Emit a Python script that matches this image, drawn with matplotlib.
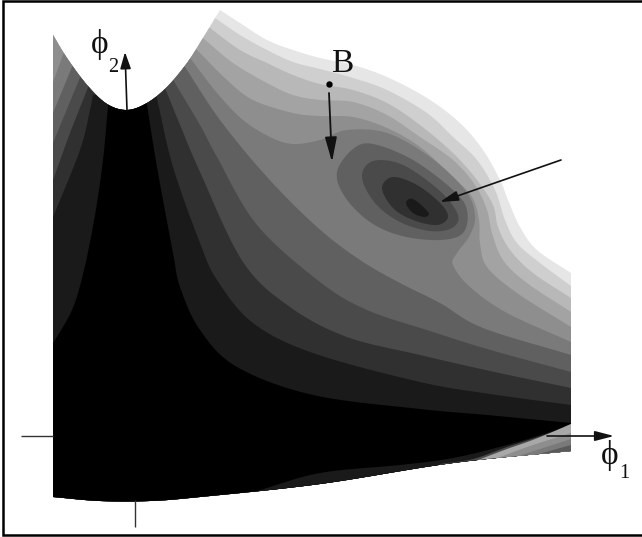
import numpy as np
import matplotlib
matplotlib.use("Agg")
import matplotlib.pyplot as plt
from matplotlib.patches import Polygon

# Outline of the plotted domain (phi1, phi2 in picture units)
domain_valley = [(53,35),(67,58),(87,85),(107,104),(127,110),(147,103),(167,87),(187,63),(203,38),(220,10)]
domain_ridge = [(220,10),(240,23),(267,40),(293,50),(320,58),(353,65),(387,77),(427,98),(460,123),(483,150),
                (500,180),(508,200),(520,227),(537,250),(571,273)]
domain_bottom = [(571,451),(453,463),(320,484),(200,497),(150,501),(100,501),(53,497)]

# Iso-potential levels: grey value, then the contour on the left of the valley and on the right
level_grey = [0xCF, 0xB8, 0xA3, 0x8E, 0x7A, 0x60, 0x4A, 0x30, 0x1A, 0x00]
left_cf = [(40,10)]
right_cf = [(205,12),(215,18),(240,35),(267,50),(293,62),(320,69),(353,78),(387,90),(427,113),(453,137),(477,160),
            (495,190),(505,220),(517,243),(540,263),(571,286)]
left_b8 = [(40,10)]
right_b8 = [(200,20),(210,28),(240,50),(267,63),(293,75),(320,84),(353,90),(387,103),(420,125),(453,153),(477,180),
            (493,205),(498,227),(510,250),(533,273),(571,298)]
left_a3 = [(40,10)]
right_a3 = [(193,30),(203,38),(233,63),(267,83),(293,95),(320,100),(353,102),(387,115),(420,137),(453,160),(475,185),
            (487,210),(492,233),(503,260),(527,283),(571,312)]
left_8e = [(40,10)]
right_8e = [(188,42),(197,50),(227,80),(253,100),(293,113),(320,116),(353,117),(387,128),(420,147),(453,177),(472,197),
            (479,220),(480,243),(487,267),(517,293),(571,327)]
left_7a = [(45,100),(53,82),(63,55),(68,42)]
right_7a = [(182,50),(190,58),(217,93),(243,120),(270,137),(293,144),(320,140),(347,130),(387,133),(430,157),(465,190),
            (475,215),(470,235),(457,253),(453,265),(470,287),(507,313),(571,342)]
left_60 = [(45,133),(53,113),(72,67),(77,55)]
right_60 = [(178,58),(185,67),(220,120),(267,177),(317,227),(360,260),(400,283),(440,303),(483,328),(571,355)]
left_4a = [(45,163),(53,143),(79,80),(84,68)]
right_4a = [(170,72),(175,83),(200,125),(217,157),(257,225),(320,282),(367,310),(430,331),(487,349),(571,372)]
left_30 = [(45,200),(53,180),(70,133),(87,90),(91,78)]
right_30 = [(162,82),(167,93),(178,120),(200,172),(243,262),(290,307),(347,337),(420,355),(490,371),(571,388)]
left_1a = [(45,235),(53,217),(80,150),(90,110),(93,95)]
right_1a = [(155,92),(158,103),(173,167),(200,243),(217,280),(253,323),(313,353),(420,382),(490,394),(571,405)]
left_00 = [(45,355),(53,343),(72,310),(84,270),(95,215),(103,160),(108,107),(110,95)]
right_00 = [(145,95),(147,105),(157,167),(173,253),(180,287),(200,330),(237,367),(313,395),(420,409),(487,415),(571,423)]

left_contours = [left_cf, left_b8, left_a3, left_8e, left_7a, left_60, left_4a, left_30, left_1a, left_00]
right_contours = [right_cf, right_b8, right_a3, right_8e, right_7a, right_60, right_4a, right_30, right_1a, right_00]

# Closed rings of the local minimum
ring_grey = [0x60, 0x4A, 0x30, 0x1A]
ring_60 = [(337,172),(353,149),(373,144),(413,160),(453,190),(467,210),(463,233),(440,240),(402,236),(370,222),(345,197)]
ring_4a = [(362,177),(373,161),(403,165),(440,191),(458,215),(452,228),(430,231),(400,222),(375,203)]
ring_30 = [(382,188),(393,177),(417,185),(440,203),(448,217),(437,225),(413,220),(393,208)]
ring_1a = [(406,203),(413,199),(428,212),(425,217),(413,213)]
rings = [ring_60, ring_4a, ring_30, ring_1a]

# Steep wedge along the lower edge
wedge_grey = [0x1A, 0x4A, 0xA8, 0x8E, 0x7A, 0x5A]
wedge_1a = [(257,491),(320,473),(400,465),(453,458),(507,445),(550,432),(571,424)]
wedge_4a = [(440,464),(473,459),(507,447),(550,433),(571,424)]
wedge_a8 = [(478,460),(507,449),(530,441),(550,433),(571,424)]
wedge_8e = [(495,459),(530,446),(571,433)]
wedge_7a = [(515,457),(540,449),(571,439)]
wedge_5a = [(535,455),(571,445)]
wedges = [wedge_1a, wedge_4a, wedge_a8, wedge_8e, wedge_7a, wedge_5a]

# Axes, arrows and labels
x_axis_left = [(21,436),(53,436)]
x_axis_right = [(547,436),(614,436)]
y_axis = [(127,110),(125,52)]
y_axis_stub = [(134.5,500),(134.5,527)]
arrow_b = [(329,93),(332,162)]
arrow_well = [(561,160),(440,202)]
point_b = (329,84)


def grey(v):
    return "#%02x%02x%02x" % (v, v, v)


def smooth(points, closed=False, n=14):
    p = np.array(points, float)
    if len(p) < 3:
        return p
    if closed:
        q = np.vstack([p[-1], p, p[0], p[1]])
    else:
        q = np.vstack([2*p[0]-p[1], p, 2*p[-1]-p[-2]])
    out = []
    t = np.linspace(0, 1, n, endpoint=False)[:, None]
    for i in range(1, len(q)-2):
        a, b, c, d = q[i-1], q[i], q[i+1], q[i+2]
        out.append(0.5*(2*b + (c-a)*t + (2*a-5*b+4*c-d)*t**2 + (3*b-a-3*c+d)*t**3))
    out = np.vstack(out)
    return out if closed else np.vstack([out, p[-1]])


fig = plt.figure(figsize=(6.42, 5.37), dpi=100, facecolor="white")
ax = fig.add_axes([0, 0, 1, 1])
ax.set_xlim(0, 642)
ax.set_ylim(537, 0)
ax.axis("off")

outline = np.vstack([smooth(domain_valley), smooth(domain_ridge), smooth(domain_bottom)])
domain = Polygon(outline, closed=True, facecolor=grey(0xE6), edgecolor="none", zorder=1)
ax.add_patch(domain)

for g, left, right in zip(level_grey, left_contours, right_contours):
    end = right[-1]
    verts = np.vstack([smooth(left), smooth(right), [(590, end[1]+8), (590, 530), (40, 530)]])
    ax.add_patch(Polygon(verts, closed=True, facecolor=grey(g), edgecolor="none", zorder=2, clip_path=domain))

for g, ring in zip(ring_grey, rings):
    ax.add_patch(Polygon(smooth(ring, closed=True), closed=True, facecolor=grey(g), edgecolor="none", zorder=3))

for g, w in zip(wedge_grey, wedges):
    verts = np.vstack([smooth(w), [(590, w[-1][1]), (590, 530), (w[0][0], 530)]])
    ax.add_patch(Polygon(verts, closed=True, facecolor=grey(g), edgecolor="none", zorder=4, clip_path=domain))

for seg in (x_axis_left, y_axis_stub):
    ax.plot(*zip(*seg), color="#333333", lw=1.0, zorder=6, solid_capstyle="butt")


def arrow(seg, head_len, head_w, lw=1.3):
    ax.annotate("", xy=seg[1], xytext=seg[0], zorder=7,
                arrowprops=dict(arrowstyle=f"-|>,head_length={head_len},head_width={head_w}",
                                color="#111111", lw=lw, shrinkA=0, shrinkB=0, mutation_scale=10))


arrow(x_axis_right, 1.15, 0.3, 1.2)
arrow(y_axis, 1.0, 0.32, 1.2)
arrow(arrow_b, 1.5, 0.36, 1.3)
arrow(arrow_well, 1.1, 0.3, 1.2)
ax.plot(*point_b, "o", ms=4.6, color="black", mec="none", zorder=8)

serif = ["Liberation Serif", "DejaVu Serif"]
ax.text(342, 64, "B", family=serif, fontsize=24, ha="center", va="center", color="#111111", zorder=9)
ax.text(100, 45, "\u03d5", family=serif, fontsize=24, ha="center", va="center", color="#111111", zorder=9)
ax.text(113, 67, "2", family=serif, fontsize=14.5, ha="center", va="center", color="#111111", zorder=9)
ax.text(610, 455.5, "\u03d5", family=serif, fontsize=24, ha="center", va="center", color="#111111", zorder=9)
ax.text(624, 473, "1", family=serif, fontsize=14.5, ha="center", va="center", color="#111111", zorder=9)

# Frame: left, top and bottom only are visible
frame_x = [642, 2.8, 2.8, 642]
frame_y = [0.5, 0.5, 534.8, 534.8]
ax.plot(frame_x, frame_y, color="black", lw=1.8, zorder=10, solid_joinstyle="miter")

fig.savefig("out.png", dpi=100)
